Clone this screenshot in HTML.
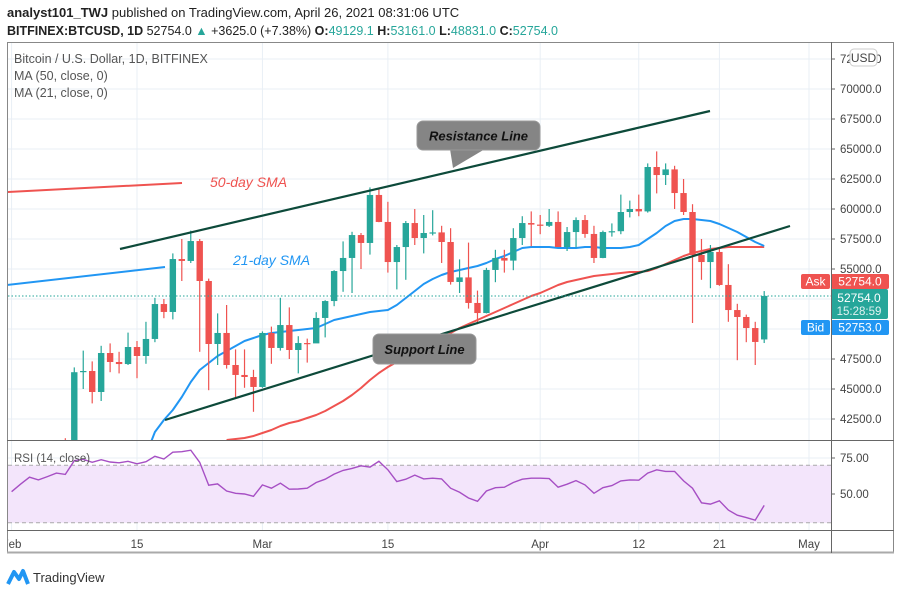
<!DOCTYPE html>
<html><head><meta charset="utf-8"><style>
html,body{margin:0;padding:0;background:#fff;}
svg{display:block;font-family:"Liberation Sans",sans-serif;}
</style></head><body>
<svg id="c" width="900" height="595" viewBox="0 0 900 595">
<defs>
<clipPath id="mainClip"><rect x="8" y="43" width="823" height="397"/></clipPath>
<clipPath id="rsiClip"><rect x="8" y="441" width="823" height="89"/></clipPath>
<clipPath id="axClip"><rect x="8" y="530" width="823" height="22"/></clipPath>
</defs>
<text x="7" y="17" font-size="13" fill="#222"><tspan font-weight="bold">analyst101_TWJ</tspan> published on TradingView.com, April 26, 2021 08:31:06 UTC</text>
<text x="7" y="35" font-size="12.5" fill="#222"><tspan font-weight="bold">BITFINEX:BTCUSD, 1D</tspan> 52754.0 <tspan fill="#26a69a">▲</tspan> +3625.0 (+7.38%) <tspan font-weight="bold">O:</tspan><tspan fill="#26a69a">49129.1</tspan> <tspan font-weight="bold">H:</tspan><tspan fill="#26a69a">53161.0</tspan> <tspan font-weight="bold">L:</tspan><tspan fill="#26a69a">48831.0</tspan> <tspan font-weight="bold">C:</tspan><tspan fill="#26a69a">52754.0</tspan></text>
<g id="grid"></g>
<g id="main" clip-path="url(#mainClip)"></g>
<g id="rsi" clip-path="url(#rsiClip)"></g>
<g id="axes"></g>
<rect x="7.5" y="42.5" width="886" height="510" fill="none" stroke="#888" stroke-width="1"/>
<line x1="7" y1="552.5" x2="894" y2="552.5" stroke="#aaa" stroke-width="2"/>
<line x1="831.5" y1="42" x2="831.5" y2="553" stroke="#666" stroke-width="1"/>
<line x1="7" y1="440.5" x2="894" y2="440.5" stroke="#666" stroke-width="1"/>
<line x1="7" y1="530.5" x2="894" y2="530.5" stroke="#666" stroke-width="1"/>
<text x="14" y="63" font-size="12.5" fill="#555">Bitcoin / U.S. Dollar, 1D, BITFINEX</text>
<text x="14" y="80" font-size="12.5" fill="#555">MA (50, close, 0)</text>
<text x="14" y="97" font-size="12.5" fill="#555">MA (21, close, 0)</text>
<text x="14" y="462" font-size="11.5" fill="#555">RSI (14, close)</text>
<g>
<path d="M8 584 L14 572 L19 579 L23 571 L28 584" fill="none" stroke="#2196f3" stroke-width="4" stroke-linejoin="round"/>
<text x="33" y="582" font-size="13" fill="#333">TradingView</text>
</g>
</svg>
<script>
const dates = ["Feb 7","Feb 8","Feb 9","Feb 10","Feb 11","Feb 12","Feb 13","Feb 14","Feb 15","Feb 16","Feb 17","Feb 18","Feb 19","Feb 20","Feb 21","Feb 22","Feb 23","Feb 24","Feb 25","Feb 26","Feb 27","Feb 28",
"Mar 1","Mar 2","Mar 3","Mar 4","Mar 5","Mar 6","Mar 7","Mar 8","Mar 9","Mar 10","Mar 11","Mar 12","Mar 13","Mar 14","Mar 15","Mar 16","Mar 17","Mar 18","Mar 19","Mar 20","Mar 21","Mar 22","Mar 23","Mar 24","Mar 25","Mar 26","Mar 27","Mar 28","Mar 29","Mar 30","Mar 31",
"Apr 1","Apr 2","Apr 3","Apr 4","Apr 5","Apr 6","Apr 7","Apr 8","Apr 9","Apr 10","Apr 11","Apr 12","Apr 13","Apr 14","Apr 15","Apr 16","Apr 17","Apr 18","Apr 19","Apr 20","Apr 21","Apr 22","Apr 23","Apr 24","Apr 25","Apr 26"];
const opens = [39200,38900,46400,46500,44750,48000,47250,47080,48500,47750,49170,52080,51420,55830,55670,57330,54000,48750,49670,47000,46170,46000,
45170,49670,48420,50330,48250,48830,48800,50920,52330,54830,55920,57830,57170,61170,58920,55580,56830,58830,57580,58000,58050,57250,53920,54300,52170,51330,54920,55920,55700,57580,58830,
58700,58600,58920,56830,58080,59080,57920,55920,58080,58150,59750,60000,59800,63500,62830,63300,61330,59750,56170,55580,56420,53670,51580,51000,50080,49129];
const closes = [38900,46400,46500,44750,48000,47250,47080,48500,47750,49170,52080,51420,55830,55670,57330,54000,48750,49670,47000,46170,46000,45170,
49670,48420,50330,48250,48830,48800,50920,52330,54830,55920,57830,57170,61170,58920,55580,56830,58830,57580,58000,58050,57250,53920,54300,52170,51330,54920,55920,55700,57580,58830,58700,
58600,58920,56830,58080,59080,57920,55920,58080,58150,59750,60000,59800,63500,62830,63300,61330,59750,56170,55580,56420,53670,51580,51000,50080,48920,52754];
const highs = [40900,46800,48200,47300,48600,48800,48100,49700,49000,50600,52600,52500,56300,57500,58200,57500,54200,51300,52000,48300,48300,46600,
49800,50200,52600,51800,49400,49200,51400,52400,54900,57300,58100,58000,61800,61700,60600,57000,59000,60000,59500,59900,58600,58400,55800,57200,53200,55100,56600,56600,58400,59400,59800,
59500,60000,59800,58500,59300,59500,58600,58200,58800,61200,60700,61200,63800,64800,63800,63600,62500,60400,57500,57000,56700,55400,52100,51200,50600,53161];
const lows = [37400,37900,45000,43800,44000,46400,46300,47000,45900,47100,48900,50900,50800,54000,55500,48100,44900,47000,46700,44200,45100,43100,
45100,47100,48200,47500,46300,47200,48900,49300,51900,53100,53000,55000,56200,58900,54700,53300,54100,57000,56300,57800,55500,53700,53000,51700,50400,51300,53900,54700,54900,57000,56900,
57900,58500,57000,56500,56800,57600,55500,55900,57700,57900,59300,59400,59700,61300,62000,60000,59500,50500,54100,53400,53600,50600,47400,48900,47000,48831];
// 21-day SMA starting at Feb 16 (index 9)
const ma21Start = 9;
const ma21 = [39500,41420,42420,43250,44330,45580,46580,47170,47750,48170,
48580,49000,49250,49500,49670,49750,49830,49920,50000,50080,
50420,50750,50920,51080,51250,51420,51500,51580,52000,52580,
53170,53750,54170,54500,54750,54920,55080,55250,55500,55830,
56080,56420,56750,56830,56830,56830,56750,56750,56750,56830,
56830,56750,56750,56750,56830,57000,57500,58000,58580,59000,
59170,59170,59080,59000,58750,58420,58080,57670,57250,56920];
// 50-day SMA starting at Feb 25 (index 18)
const ma50Start = 18;
const ma50 = [40750,40830,40920,41080,41330,41580,41920,42170,42330,42580,
42830,43170,43580,44000,44500,45080,45750,46330,46830,47250,
47580,48000,48420,48830,49250,49670,50080,50420,50750,51080,
51420,51750,52080,52420,52750,53000,53330,53670,53920,54080,
54250,54420,54500,54580,54670,54750,54750,54830,55080,55420,
55750,56080,56330,56500,56670,56750,56830,56830,56830,56830,56830];
// RSI from Feb 1 (day offset -14 relative to Feb 15)
const rsiStartDay = -14;
const rsi = [51.6,56.8,61.7,59.8,62.1,64.5,63.6,73.1,74.1,72,73.8,72.2,71.7,72.7,
71,72.4,76.2,74.3,79,79.4,80.4,72,56.1,57,52.1,50.5,50,48.4,
56.3,54,57.5,53.3,53.5,54,58,60.3,63.8,66.4,67.8,69.6,68.7,72.7,
66.8,58.6,60.3,63.1,60.5,61,60.5,54,51.2,47.2,44.9,52.1,54.4,54.7,58,
60.3,61,61,60.7,54.7,56.8,59.3,56.3,50.5,54.4,55.8,59.1,59.8,59.6,
64.5,66.8,65.7,65.7,59.1,54,43.9,43,45.3,38.8,35.3,33.6,31.8,42.1];
const priceTicks = [42500,45000,47500,50000,52500,55000,57500,60000,62500,65000,67500,70000,72500];
const timeLabels = ["Feb","15","Mar","15","Apr","12","21","May"];
const timeLabelDays = [-14,0,14,28,45,56,65,75];
const rsiTicks = [75,50];
const lastPrice = 52754;

const NS="http://www.w3.org/2000/svg";
const firstDay = -8; // Feb 7 relative to Feb 15
function xDay(d){return 137 + 8.96*d;}
function xIdx(i){return xDay(i+firstDay);}
function yP(p){return 89 + (70000-p)*0.012;}
function yR(v){return 458 + (75-v)*1.44;}
function mk(tag,attrs,parent){const e=document.createElementNS(NS,tag);for(const k in attrs)e.setAttribute(k,attrs[k]);parent.appendChild(e);return e;}
const grid=document.getElementById('grid'),main=document.getElementById('main'),rsiG=document.getElementById('rsi'),axes=document.getElementById('axes');

// grid
priceTicks.forEach(p=>{const l=mk('line',{x1:8,x2:831,y1:yP(p),y2:yP(p),stroke:'#e9eff5','stroke-width':1},grid);

});
timeLabelDays.forEach(d=>{const l=mk('line',{x1:xDay(d),x2:xDay(d),y1:43,y2:530,stroke:'#e9eff5','stroke-width':1},grid);

});
rsiTicks.forEach(v=>{const l=mk('line',{x1:8,x2:831,y1:yR(v),y2:yR(v),stroke:'#e9eff5'},grid);

});

// annotation trendlines behind
const sma50Ann=mk('line',{x1:7,y1:192,x2:182,y2:183,stroke:'#ef5350','stroke-width':2},main);


const sma21Ann=mk('line',{x1:7,y1:285,x2:165,y2:267,stroke:'#2196f3','stroke-width':2},main);



// MAs
function maPath(arr,start,color,name){let d='';arr.forEach((v,k)=>{d+=(k?'L':'M')+xIdx(start+k).toFixed(1)+' '+yP(v).toFixed(1)+' ';});
const p=mk('path',{d:d,fill:'none',stroke:color,'stroke-width':2,'stroke-linejoin':'round'},main);

}
maPath(ma50,ma50Start,'#ef5350','ma50-line');
maPath(ma21,ma21Start,'#2196f3','ma21-line');

// candles
closes.forEach((c,i)=>{const o=opens[i],up=c>=o,col=up?'#26a69a':'#ef5350',x=xIdx(i);
const g=mk('g',{},main);


mk('line',{x1:x,x2:x,y1:yP(highs[i]),y2:yP(lows[i]),stroke:col,'stroke-width':1.2},g);
const t=yP(Math.max(o,c)),b=yP(Math.min(o,c));
mk('rect',{x:x-3.2,y:t,width:6.4,height:Math.max(1.2,b-t),fill:col},g);});

// resistance / support lines
const res=mk('line',{x1:120,y1:249,x2:710,y2:111,stroke:'#0d4a3a','stroke-width':2.2},main);


const sup=mk('line',{x1:165,y1:420,x2:790,y2:226,stroke:'#0d4a3a','stroke-width':2.2},main);



// last price dotted
const lp=mk('line',{x1:8,x2:831,y1:yP(lastPrice),y2:yP(lastPrice),stroke:'#26a69a','stroke-dasharray':'1.5 2','stroke-width':1},main);



// callouts
function callout(x,y,w,h,text,name,ptr){const g=mk('g',{},main);


if(ptr)mk('path',{d:ptr,fill:'#858585'},g);
mk('rect',{x:x,y:y,width:w,height:h,rx:6,fill:'#858585',stroke:'#999'},g);
const t=mk('text',{x:x+w/2,y:y+h/2+5,'font-size':13,'font-weight':'bold','font-style':'italic','text-anchor':'middle',fill:'#111'},g);t.textContent=text;}
callout(417,121,123,29,'Resistance Line','resistance-label','M450 149 L485 149 L453 168 Z');
callout(373,334,103,30,'Support Line','support-label',null);
const t50=mk('text',{x:210,y:187,'font-size':14,'font-style':'italic',fill:'#ef5350'},main);t50.textContent='50-day SMA';


const t21=mk('text',{x:233,y:265,'font-size':14,'font-style':'italic',fill:'#2196f3'},main);t21.textContent='21-day SMA';



// RSI
mk('rect',{x:8,y:yR(70),width:823,height:yR(30)-yR(70),fill:'#f3e5fb'},rsiG);
[70,30].forEach(v=>{const l=mk('line',{x1:8,x2:831,y1:yR(v),y2:yR(v),stroke:'#aaa','stroke-dasharray':'4 3'},rsiG);

});
let rd='';rsi.forEach((v,k)=>{rd+=(k?'L':'M')+xDay(rsiStartDay+k).toFixed(1)+' '+yR(v).toFixed(1)+' ';});
const rl=mk('path',{d:rd,fill:'none',stroke:'#a64fc4','stroke-width':1.4},rsiG);



// price axis
priceTicks.forEach(p=>{if(p>=55000||p<=50000){mk('line',{x1:831,x2:835,y1:yP(p),y2:yP(p),stroke:'#666'},axes);
const t=mk('text',{x:840,y:yP(p)+4,'font-size':11.5,fill:'#444'},axes);t.textContent=p.toFixed(1);

}});
rsiTicks.forEach(v=>{mk('line',{x1:831,x2:835,y1:yR(v),y2:yR(v),stroke:'#666'},axes);
const t=mk('text',{x:840,y:yR(v)+4,'font-size':11.5,fill:'#444'},axes);t.textContent=v.toFixed(2);

});
// time axis
const tg=mk('g',{'clip-path':'url(#axClip)'},axes);
timeLabels.forEach((s,k)=>{const t=mk('text',{x:xDay(timeLabelDays[k]),y:548,'font-size':11.5,fill:'#444','text-anchor':'middle'},tg);t.textContent=s;

});

// USD badge & price labels
const usd=mk('g',{},axes);


mk('rect',{x:850,y:49,width:27,height:17,rx:4,fill:'#fff',stroke:'#ccc'},usd);
const ut=mk('text',{x:863.5,y:62,'font-size':12,fill:'#444','text-anchor':'middle'},usd);ut.textContent='USD';
function tag(x,y,w,h,fill,txt,name,anchor){const g=mk('g',{},axes);


mk('rect',{x:x,y:y,width:w,height:h,rx:2,fill:fill},g);
const t=mk('text',{x:x+w/2,y:y+h/2+4,'font-size':12,fill:'#fff','text-anchor':'middle'},g);t.textContent=txt;return g;}
tag(801,274,29,15,'#ef5350','Ask','ask-label');
tag(831,274,58,15,'#ef5350','52754.0','ask-price');
tag(801,320,29,15,'#2196f3','Bid','bid-label');
tag(831,320,58,15,'#2196f3','52753.0','bid-price');
const lpTag=mk('g',{},axes);


mk('rect',{x:831,y:289,width:57,height:30,rx:2,fill:'#26a69a'},lpTag);
const a=mk('text',{x:859,y:302,'font-size':12,fill:'#fff','text-anchor':'middle'},lpTag);a.textContent='52754.0';
const b=mk('text',{x:859,y:315,'font-size':11.5,fill:'#e0f2f1','text-anchor':'middle'},lpTag);b.textContent='15:28:59';
</script>
</body></html>
